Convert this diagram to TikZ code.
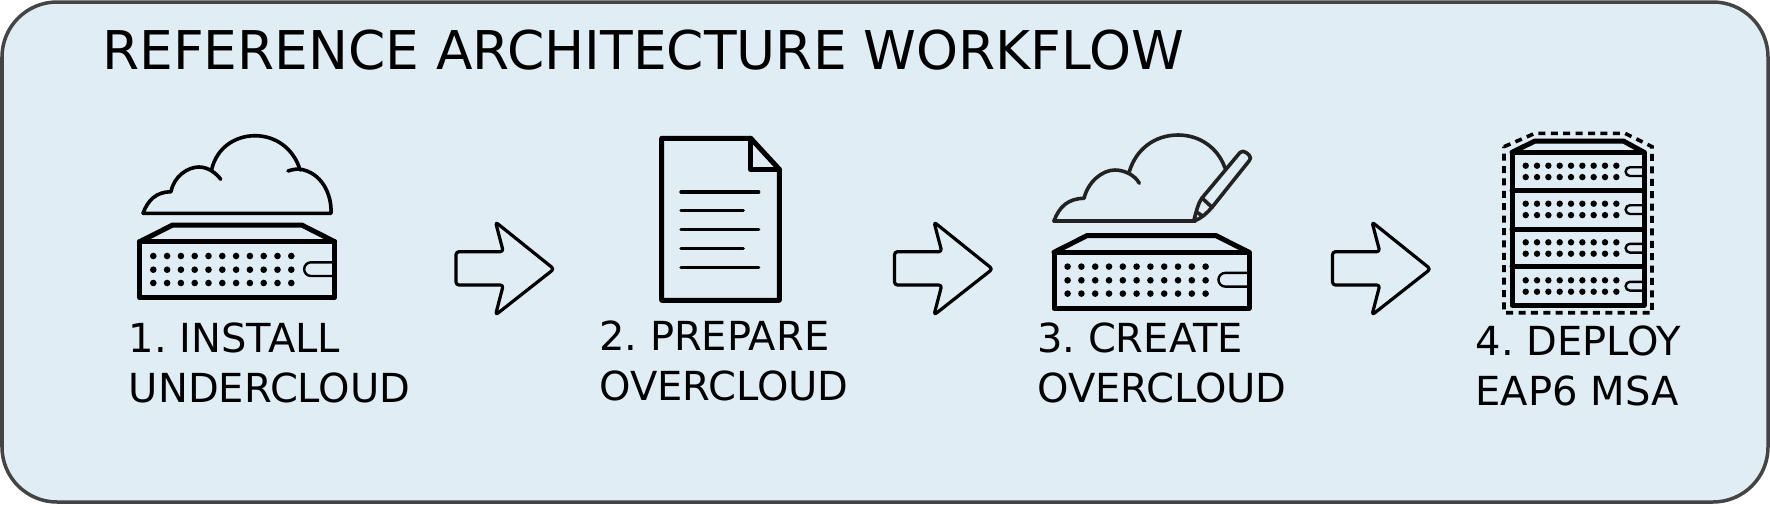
\documentclass[tikz,border=0pt]{standalone}
\usepackage{fontspec}
\setmainfont{DejaVu Sans}
\definecolor{panel}{HTML}{E0EDF4}
\definecolor{edge}{HTML}{444444}
\definecolor{ink}{HTML}{000000}
\definecolor{softink}{HTML}{222222}
\tikzset{
  panelbox/.style={draw=edge,line width=3.5pt,fill=panel,rounded corners=55pt},
  heavy/.style={draw=ink,line width=5pt,line join=round,line cap=round},
  slotline/.style={draw=ink,line width=2.4pt,line cap=round},
  cloudline/.style={draw=ink,line width=3.6pt,line cap=round,line join=round},
  penline/.style={draw=softink,line width=3.6pt,line cap=round,line join=round},
  textline/.style={draw=ink,line width=3.4pt,line cap=round},
  arrowshape/.style={draw=ink,line width=3.2pt,line join=round,rounded corners=3pt},
  dashbox/.style={draw=ink,line width=3.6pt,line cap=butt,dash pattern=on 7pt off 5.4pt},
  titletext/.style={anchor=base west,inner sep=0pt,font=\fontsize{53.4}{60}\selectfont},
  steptext/.style={anchor=base west,inner sep=0pt,align=left,font=\frenchspacing\fontsize{40}{50}\selectfont},
  pics/serverunit/.style={code={
    \draw[heavy] (139.7,241.7) rectangle (334.7,297.7);
    \draw[heavy] (139.7,241.7) -- (172.7,225) -- (301.7,225) -- (334.7,241.7);
    \foreach \r in {256,269.7,283}{\foreach \c in {0,...,10}{
      \fill[ink] ({153.3+13.8*\c},\r) circle (3.3pt);}}
    \draw[slotline] (333,262.3) -- (311,262.3) arc[start angle=90,end angle=270,radius=6.85pt] -- (333,276);
  }},
  pics/rackslot/.style={code={
    \foreach \c in {0,...,8}{
      \fill[ink] ({1525.7+11.33*\c},0) circle (3.2pt);
      \fill[ink] ({1525.7+11.33*\c},11.4) circle (3.2pt);}
    \draw[slotline] (1642,1.5) -- (1630,1.5) arc[start angle=90,end angle=270,radius=4.4pt] -- (1642,10.3);
  }},
  pics/flowarrow/.style={code={
    \draw[arrowshape] (456,251.7) -- (503.3,251.7) -- (495.5,222) -- (554,269) -- (495.5,315) -- (503.3,285) -- (456,285) -- cycle;
  }}
}
\begin{document}
\begin{tikzpicture}[x=1pt,y=-1pt]
\useasboundingbox (0,0) rectangle (1770,504);
\draw[panelbox] (2,2) rectangle (1768,502);
\node[titletext] (title) at (102,69) {REFERENCE ARCHITECTURE WORKFLOW};
% step 1
\draw[cloudline] (143,213.3) -- (331,213.3) .. controls (332,195) and (322,172) .. (299,169) .. controls (295,169) and (291,170) .. (288,171);
\draw[cloudline] (143,213.3) .. controls (148,200) and (156,192) .. (171,191.7);
\draw[cloudline] (171,191.7) .. controls (174,176) and (188,167) .. (199,167) .. controls (208,167) and (216,173) .. (220.7,179.3);
\draw[cloudline] (211.7,169.3) .. controls (217,147) and (236,135.7) .. (255,135.7) .. controls (276,135.7) and (294,149) .. (300,170);
\pic {serverunit};
\node[steptext] (label1) at (128.7,402.7) {1. INSTALL\\UNDERCLOUD};
\pic {flowarrow};
% step 2
\draw[heavy] (661.7,138.3) -- (750.7,138.3) -- (779.3,169.3) -- (779.3,300.3) -- (661.7,300.3) -- cycle;
\draw[heavy] (750.7,138.3) -- (750.7,169.3) -- (779.3,169.3);
\foreach \yy/\xe in {192/758.7,210.7/743.3,229.7/758.7,248.3/743.3,267.3/758.7}{
  \draw[textline] (681,\yy) -- (\xe,\yy);}
\node[steptext] (label2) at (599,400) {2. PREPARE\\OVERCLOUD};
\begin{scope}[shift={(438.5,0)}]\pic {flowarrow};\end{scope}
% step 3
\draw[penline] (1054,221) -- (1195,221);
\draw[penline] (1054,221) .. controls (1059,207) and (1068,198.5) .. (1084,198.3);
\draw[penline] (1084,198.3) .. controls (1088,182) and (1102,170) .. (1115,170) .. controls (1124,170) and (1135,175) .. (1139.3,183.3);
\draw[penline] (1129.3,171.7) .. controls (1136,149) and (1155,135) .. (1178,135) .. controls (1200,135) and (1218,148) .. (1225,168);
\draw[penline] (1194,220) .. controls (1197,208) and (1199,202) .. (1202,198) -- (1240,152.5) .. controls (1242,151) and (1244,151) .. (1246,152.5) -- (1249,155) .. controls (1251,157) and (1251,159) .. (1249,161) -- (1212,207.3) .. controls (1207,213) and (1202,218) .. (1194,221);
\draw[penline] (1202,198) -- (1212,207.3);
\draw[penline] (1197.5,212.7) -- (1202.7,216);
\begin{scope}[shift={(914.3,10.6)}]\pic {serverunit};\end{scope}
\node[steptext] (label3) at (1037,402.7) {3. CREATE\\OVERCLOUD};
\begin{scope}[shift={(876.5,0)}]\pic {flowarrow};\end{scope}
% step 4
\draw[dashbox] (1504,146.7) -- (1535,133.3) -- (1625,133.3) -- (1652,146.7) -- (1652,312.7) -- (1504,312.7) -- cycle;
\draw[heavy] (1512,152.3) rectangle (1644,305);
\draw[heavy] (1512,152.3) -- (1535,141) -- (1623.3,141) -- (1644,152.3);
\foreach \yy in {190.7,229,266.7}{\draw[heavy] (1512,\yy) -- (1644,\yy);}
\foreach \yy in {165.7,203.7,242.3,280.3}{
  \begin{scope}[shift={(0,\yy)}]\pic {rackslot};\end{scope}}
\node[steptext] (label4) at (1475.5,405) {4. DEPLOY\\EAP6 MSA};
\end{tikzpicture}
\end{document}
